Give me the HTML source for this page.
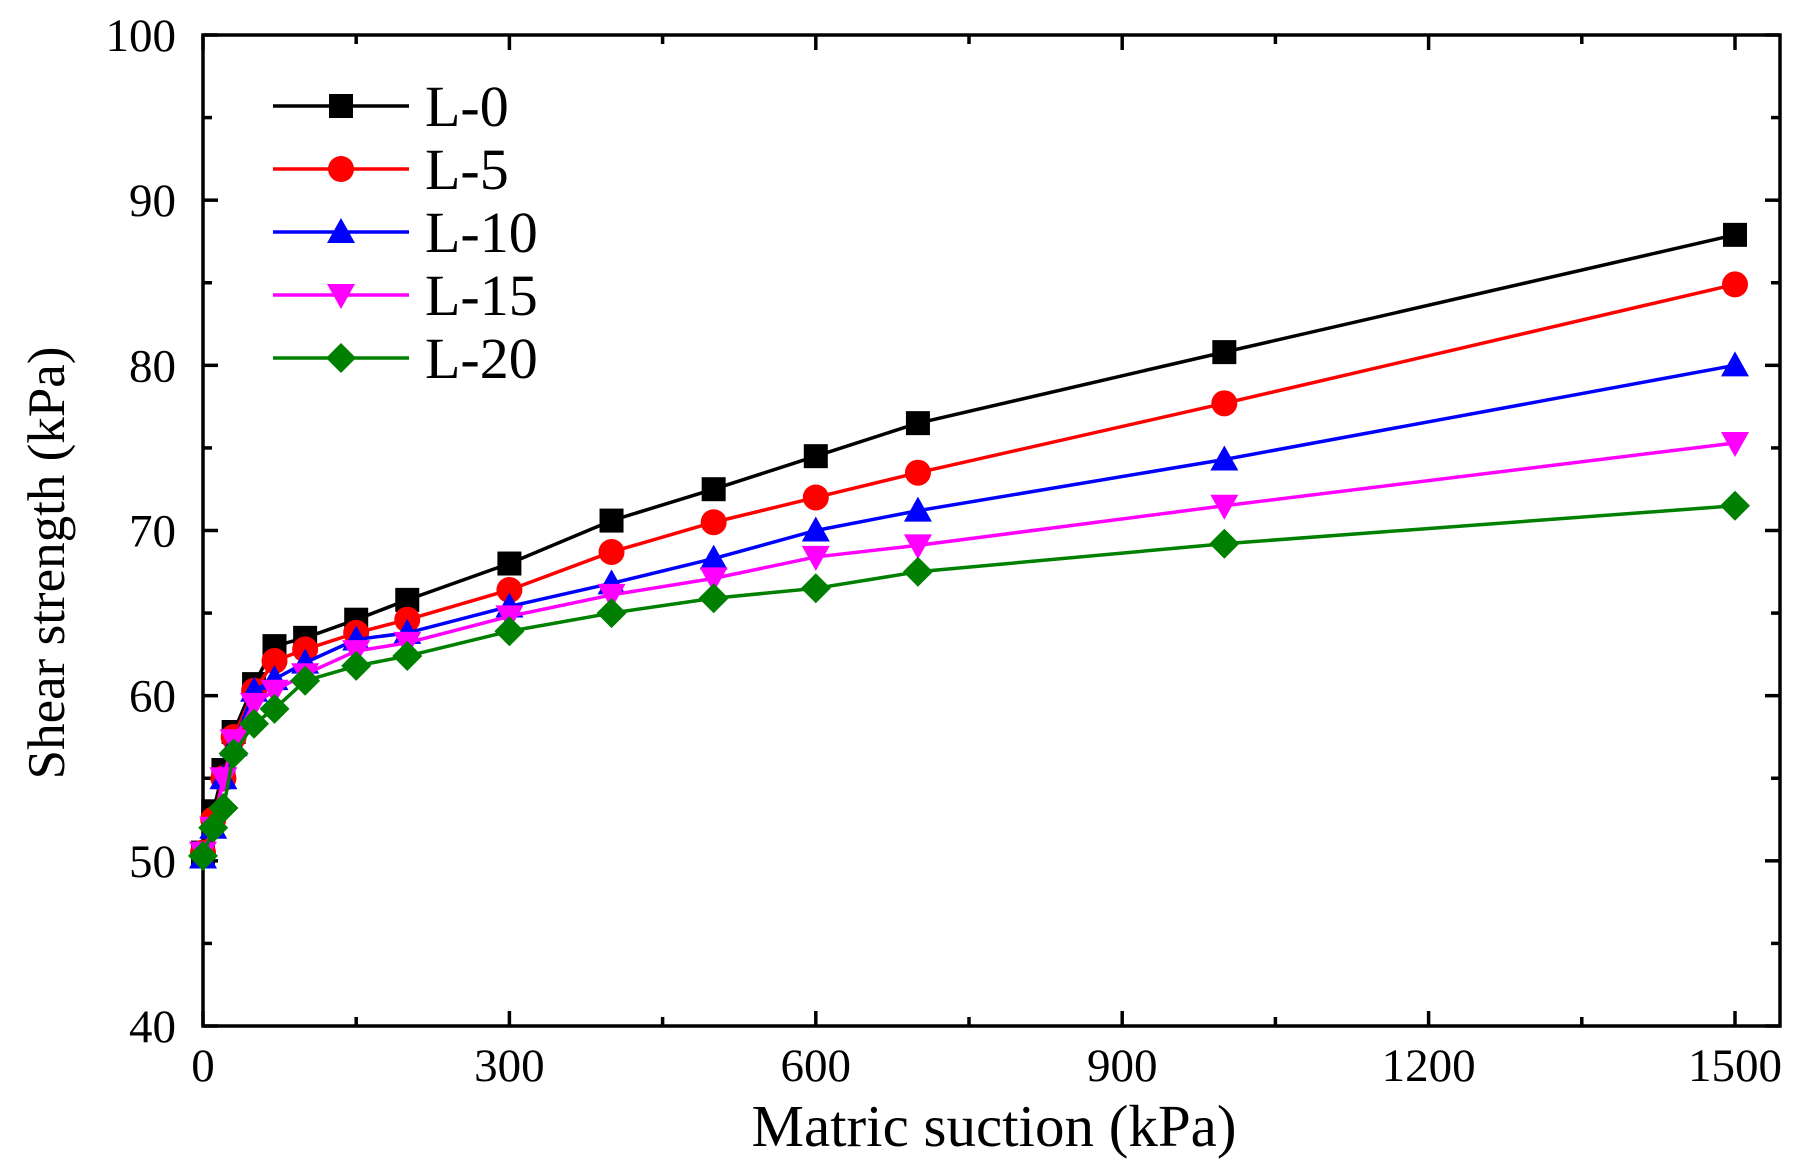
<!DOCTYPE html>
<html><head><meta charset="utf-8"><style>
html,body{margin:0;padding:0;background:#fff;}
svg{display:block;font-family:"Liberation Serif",serif;}
</style></head><body>
<svg id="chart" width="1804" height="1166" viewBox="0 0 1804 1166">
<g id="marks"></g>
</svg>
<script>
const xValues = [0,10,20,30,50,70,100,150,200,300,400,500,600,700,1000,1500];
const seriesNames = ["L-0","L-5","L-10","L-15","L-20"];
const l0 = [50.5,53,55.5,57.8,60.7,63.0,63.5,64.6,65.8,68.0,70.6,72.5,74.5,76.5,80.8,87.9];
const l5 = [50.5,52.5,55,57.5,60.3,62.1,62.8,63.8,64.6,66.4,68.7,70.5,72.0,73.5,77.7,84.9];
const l10 = [50.2,52,55,57,60.3,61,62,63.4,63.8,65.4,66.8,68.3,70.0,71.2,74.3,80.0];
const l15 = [50.5,52,55,57.3,59.5,60.3,61.3,62.7,63.2,64.8,66.1,67.1,68.4,69.1,71.5,75.3];
const l20 = [50.3,52,53.2,56.5,58.3,59.2,60.9,61.8,62.4,63.9,65.0,65.9,66.5,67.5,69.2,71.5];
const xTicks = [0,300,600,900,1200,1500];
const yTicks = [40,50,60,70,80,90,100];

const NS="http://www.w3.org/2000/svg";
const L=203,R=1780,T=35,B=1026;
const xs=v=>L+(v/1500)*(1735-L);
const ys=v=>B-(v-40)/60*(B-T);
const root=document.getElementById('chart');
function mk(tag,attrs,parent){const e=document.createElementNS(NS,tag);for(const k in attrs)e.setAttribute(k,attrs[k]);(parent||root).appendChild(e);return e;}

const frame=mk('rect',{x:L,y:T,width:R-L,height:B-T,fill:'none',stroke:'#000','stroke-width':3.5});



for(let v=40;v<=100;v+=5){const y=ys(v);const len=(v%10===0)?15:9;
 const t1=mk('line',{x1:L,x2:L+len,y1:y,y2:y,stroke:'#000','stroke-width':3.5});
 
 
 const t2=mk('line',{x1:R,x2:R-len,y1:y,y2:y,stroke:'#000','stroke-width':3.5});
 
 
}
for(let v=0;v<=1650;v+=150){const x=xs(v);if(x>R)break;const len=(v%300===0)?15:9;
 const t1=mk('line',{x1:x,x2:x,y1:B,y2:B-len,stroke:'#000','stroke-width':3.5});
 
 
 const t2=mk('line',{x1:x,x2:x,y1:T,y2:T+len,stroke:'#000','stroke-width':3.5});
 
 
}
yTicks.forEach(v=>{const t=mk('text',{x:176,y:ys(v)+16,'text-anchor':'end','font-size':47,fill:'#000'});t.textContent=v;
 
 });
xTicks.forEach(v=>{const t=mk('text',{x:xs(v),y:1081,'text-anchor':'middle','font-size':47,fill:'#000'});t.textContent=v;
 
 });
const xt=mk('text',{x:994,y:1146,'text-anchor':'middle','font-size':59,fill:'#000'});xt.textContent='Matric suction (kPa)';


const yt=mk('text',{x:0,y:0,'text-anchor':'middle','font-size':53,fill:'#000',transform:'translate(64,563) rotate(-90)'});yt.textContent='Shear strength (kPa)';



const data=[l0,l5,l10,l15,l20];
const colors=['#000000','#ff0000','#0000ff','#ff00ff','#008000'];
const shapes=['square','circle','up','down','diamond'];
function marker(shape,x,y,c,parent){const s=13;let e;
 if(shape==='square')e=mk('rect',{x:x-s+1,y:y-s+1,width:2*s-2,height:2*s-2,fill:c},parent);
 else if(shape==='circle')e=mk('circle',{cx:x,cy:y,r:s,fill:c},parent);
 else if(shape==='up')e=mk('polygon',{points:`${x},${y-s-1} ${x+s+1},${y+s-2} ${x-s-1},${y+s-2}`,fill:c},parent);
 else if(shape==='down')e=mk('polygon',{points:`${x},${y+s+1} ${x+s+1},${y-s+2} ${x-s-1},${y-s+2}`,fill:c},parent);
 else e=mk('polygon',{points:`${x},${y-s-2} ${x+s+2},${y} ${x},${y+s+2} ${x-s-2},${y}`,fill:c},parent);
 return e;}
data.forEach((arr,i)=>{
 const g=mk('g',{},root);
 
 
 const pl=mk('polyline',{points:arr.map((v,j)=>xs(xValues[j])+','+ys(v)).join(' '),fill:'none',stroke:colors[i],'stroke-width':3.5},g);
 
 
 arr.forEach((v,j)=>{const m=marker(shapes[i],xs(xValues[j]),ys(v),colors[i],g);
  
  });
 const ly=106+i*63;
 const lg=mk('g',{},root);
 
 
 mk('line',{x1:273,x2:409,y1:ly,y2:ly,stroke:colors[i],'stroke-width':3.5},lg);
 marker(shapes[i],341,ly,colors[i],lg);
 const tx=mk('text',{x:425,y:ly+20,'font-size':58,fill:'#000'},lg);tx.textContent=seriesNames[i];
});
</script>
</body></html>
